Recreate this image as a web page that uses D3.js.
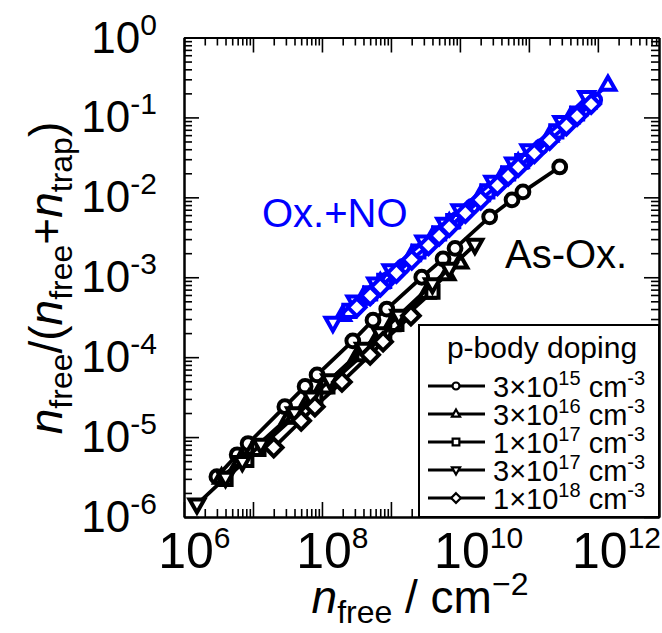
<!DOCTYPE html>
<html>
<head>
<meta charset="utf-8">
<script src="https://cdn.jsdelivr.net/npm/d3@7"></script>
<style>
body { margin: 0; background: #fff; }
text { font-family: "Liberation Sans", Arial, sans-serif; }
</style>
</head>
<body>
<svg id="chart" width="662" height="633"></svg>
<script>
// ---- data ----
// As-Ox. (black)
var asOx3e15X = [3.0e6, 5.9e6, 8.5e6, 2.9e7, 5.7e7, 8.5e7, 2.8e8, 5.5e8, 8.7e8, 2.8e9, 5.7e9, 8.5e9, 2.7e10, 5.7e10, 8.2e10, 2.8e11];
var asOx3e15Y = [3.2e-6, 6.0e-6, 8.3e-6, 2.4e-5, 4.3e-5, 6.0e-5, 1.6e-4, 2.9e-4, 4.0e-4, 1.0e-3, 1.7e-3, 2.3e-3, 5.7e-3, 9.3e-3, 1.17e-2, 2.4e-2];
var asOx3e16X = [3.5e6, 6.5e6, 1.0e7, 3.3e7, 6.5e7, 1.0e8, 3.3e8, 6.5e8, 1.0e9, 3.3e9, 6.5e9, 1.0e10];
var asOx3e16Y = [3.1e-6, 5.0e-6, 7.0e-6, 1.77e-5, 3.0e-5, 4.2e-5, 1.07e-4, 1.8e-4, 2.5e-4, 6.4e-4, 1.09e-3, 1.52e-3];
var asOx1e17X = [4.0e6, 8.0e6, 1.2e7, 4.0e7, 8.0e7, 1.2e8, 4.0e8, 8.0e8, 1.2e9, 4.0e9];
var asOx1e17Y = [3.0e-6, 5.2e-6, 7.1e-6, 1.8e-5, 3.1e-5, 4.3e-5, 1.09e-4, 1.87e-4, 2.6e-4, 6.6e-4];
var asOx3e17X = [1.54e6, 4.0e6, 7.0e6, 1.3e7, 4.0e7, 7.0e7, 1.3e8, 4.0e8, 7.0e8, 1.3e9, 4.0e9, 7.0e9, 1.65e10];
var asOx3e17Y = [1.44e-6, 3.1e-6, 4.9e-6, 8.05e-6, 2.0e-5, 3.13e-5, 5.15e-5, 1.28e-4, 2.0e-4, 3.3e-4, 8.2e-4, 1.28e-3, 2.55e-3];
var asOx1e18X = [2.0e7, 5.0e7, 7.9e7, 1.95e8, 5.0e8, 7.7e8, 1.95e9];
var asOx1e18Y = [7.4e-6, 1.6e-5, 2.4e-5, 4.9e-5, 1.07e-4, 1.56e-4, 3.3e-4];
// Ox.+NO (blue)
var no3e15X = [3e8, 4.5e8, 6e8, 9e8, 1.5e9, 3e9, 4.5e9, 6e9, 9e9, 1.5e10, 3e10, 4.5e10, 6e10, 9e10, 1.5e11, 3e11, 4.5e11, 6e11, 9e11];
var no3e15Y = [4.1e-4, 5.55e-4, 6.9e-4, 9.4e-4, 1.37e-3, 2.3e-3, 3.1e-3, 3.9e-3, 5.3e-3, 7.7e-3, 1.3e-2, 1.75e-2, 2.2e-2, 2.9e-2, 4.3e-2, 7.2e-2, 9.8e-2, 0.122, 0.165];
var no3e16X = [2e8, 4e8, 7e8, 2e9, 4e9, 7e9, 2e10, 4e10, 7e10, 2e11, 4e11, 7e11, 1.4e12];
var no3e16Y = [3.36e-4, 5.65e-4, 8.6e-4, 1.88e-3, 3.17e-3, 4.82e-3, 1.06e-2, 1.78e-2, 2.7e-2, 5.9e-2, 0.0998, 0.152, 0.255];
var no1e17X = [2.5e8, 5e8, 8e8, 2.5e9, 5e9, 8e9, 2.5e10, 5e10, 8e10, 2.5e11, 5e11];
var no1e17Y = [3.8e-4, 6.3e-4, 9.0e-4, 2.1e-3, 3.55e-3, 5.05e-3, 1.19e-2, 2.0e-2, 2.84e-2, 6.7e-2, 0.112];
var no3e17X = [1.44e8, 3e8, 6e8, 1e9, 3e9, 6e9, 1e10, 3e10, 6e10, 1e11, 3e11, 6.9e11];
var no3e17Y = [2.7e-4, 5.0e-4, 8.4e-4, 1.23e-3, 2.8e-3, 4.7e-3, 6.9e-3, 1.57e-2, 2.65e-2, 3.9e-2, 8.8e-2, 0.18];
var no1e18X = [3.2e8, 5e8, 7e8, 1.2e9, 2e9, 3.5e9, 5e9, 7e9, 1.2e10, 2e10, 3.5e10, 5e10, 7e10, 1.2e11, 2e11, 3.5e11, 5e11, 8e11];
var no1e18Y = [4.2e-4, 5.9e-4, 7.6e-4, 1.13e-3, 1.65e-3, 2.5e-3, 3.3e-3, 4.25e-3, 6.35e-3, 9.3e-3, 1.41e-2, 1.85e-2, 2.38e-2, 3.55e-2, 5.2e-2, 7.9e-2, 0.104, 0.147];

var legendMant = ["3", "3", "1", "3", "1"];
var legendExp = ["15", "16", "17", "17", "18"];
var shapes = ["circle", "up", "square", "down", "diamond"];
var xTickExp = [6, 8, 10, 12];
var yTickExp = [0, -1, -2, -3, -4, -5, -6];

var black = "#000", blue = "#0000ff";

var series = [
	{x: asOx3e15X, y: asOx3e15Y, shape: "circle", color: black},
	{x: asOx3e16X, y: asOx3e16Y, shape: "up", color: black},
	{x: asOx1e17X, y: asOx1e17Y, shape: "square", color: black},
	{x: asOx3e17X, y: asOx3e17Y, shape: "down", color: black},
	{x: asOx1e18X, y: asOx1e18Y, shape: "diamond", color: black},
	{x: no3e15X, y: no3e15Y, shape: "circle", color: blue},
	{x: no3e16X, y: no3e16Y, shape: "up", color: blue},
	{x: no1e17X, y: no1e17Y, shape: "square", color: blue},
	{x: no3e17X, y: no3e17Y, shape: "down", color: blue},
	{x: no1e18X, y: no1e18Y, shape: "diamond", color: blue}
];

var L = 184, R = 659, T = 37.5, B = 517;
var svg = d3.select("#chart");
var x = d3.scaleLog().domain([1e6, 7.7e12]).range([L, R]);
var y = d3.scaleLog().domain([1e-6, 1]).range([B, T]);

// marker shapes, k scales them down for the legend
var markerPath = function(shape, k){
	k = k || 1;
	if(shape === "circle") return d3.symbol().type(d3.symbolCircle).size(Math.PI * 6.4 * 6.4 * k * k)();
	if(shape === "up") return "M0," + (-8.2*k) + "L" + (7.4*k) + "," + (4.9*k) + "L" + (-7.4*k) + "," + (4.9*k) + "Z";
	if(shape === "down") return "M0," + (8.2*k) + "L" + (7.4*k) + "," + (-4.9*k) + "L" + (-7.4*k) + "," + (-4.9*k) + "Z";
	if(shape === "square") return "M" + (-6.1*k) + "," + (-6.1*k) + "H" + (6.1*k) + "V" + (6.1*k) + "H" + (-6.1*k) + "Z";
	return "M0," + (-8.8*k) + "L" + (8.8*k) + ",0L0," + (8.8*k) + "L" + (-8.8*k) + ",0Z";
};

// ---- axes / frame ----
var xMinor = [], yMinor = [];
for(var d = 6; d <= 12; d++){
	for(var m = 2; m <= 9; m++){
		if(m * Math.pow(10, d) <= 7.7e12) xMinor.push(m * Math.pow(10, d));
	}
}
for(var e = -6; e <= -1; e++){
	for(var m2 = 2; m2 <= 9; m2++) yMinor.push(m2 * Math.pow(10, e));
}
var xMajor = d3.range(6, 13).map(function(p){ return Math.pow(10, p); });
var yMajor = d3.range(-6, 1).map(function(p){ return Math.pow(10, p); });

var axisDefs = [
	{gen: d3.axisBottom, sc: x, tr: "translate(0," + B + ")"},
	{gen: d3.axisTop, sc: x, tr: "translate(0," + T + ")"},
	{gen: d3.axisLeft, sc: y, tr: "translate(" + L + ",0)"},
	{gen: d3.axisRight, sc: y, tr: "translate(" + R + ",0)"}
];
axisDefs.forEach(function(a){
	var major = a.sc === x ? xMajor : yMajor;
	var minor = a.sc === x ? xMinor : yMinor;
	svg.append("g").attr("transform", a.tr)
		.call(a.gen(a.sc).tickValues(minor).tickSize(-8).tickSizeOuter(0).tickFormat(""));
	svg.append("g").attr("transform", a.tr)
		.call(a.gen(a.sc).tickValues(major).tickSize(-15).tickSizeOuter(0).tickFormat(""));
});
svg.selectAll(".domain").attr("stroke", "#000").attr("stroke-width", 2);
svg.selectAll(".tick line").attr("stroke", "#000").attr("stroke-width", 1.6);

// tick labels
xTickExp.forEach(function(p){
	var t = svg.append("text").attr("y", 568).attr("font-size", 50);
	t.append("tspan").text("10");
	t.append("tspan").attr("font-size", 30).attr("dy", -20).text(p);
	var w = t.node().getSubStringLength(0, 2);
	t.attr("x", x(Math.pow(10, p)) - w / 2 + 2);
});
yTickExp.forEach(function(p){
	var t = svg.append("text").attr("x", 157).attr("y", y(Math.pow(10, p)) + 15)
		.attr("font-size", 44).attr("text-anchor", "end");
	t.append("tspan").text("10");
	t.append("tspan").attr("font-size", 30).attr("dy", -18).text(p);
});

// axis titles
var xt = svg.append("text").attr("x", 420).attr("y", 613).attr("font-size", 46).attr("text-anchor", "middle");
xt.append("tspan").attr("font-style", "italic").text("n");
xt.append("tspan").attr("font-size", 32).attr("dy", 10).text("free");
xt.append("tspan").attr("dy", -10).text(" / cm");
xt.append("tspan").attr("font-size", 32).attr("dy", -18).text("\u22122");

var yt = svg.append("text").attr("transform", "translate(62,278) rotate(-90)")
	.attr("font-size", 46).attr("text-anchor", "middle");
yt.append("tspan").attr("font-style", "italic").text("n");
yt.append("tspan").attr("font-size", 32).attr("dy", 10).text("free");
yt.append("tspan").attr("dy", -10).text("/(");
yt.append("tspan").attr("font-style", "italic").text("n");
yt.append("tspan").attr("font-size", 32).attr("dy", 10).text("free");
yt.append("tspan").attr("dy", -10).text("+");
yt.append("tspan").attr("font-style", "italic").text("n");
yt.append("tspan").attr("font-size", 32).attr("dy", 10).text("trap");
yt.append("tspan").attr("dy", -10).text(")");

// ---- series ----
var line = d3.line().x(function(d){ return x(d[0]); }).y(function(d){ return y(d[1]); });
series.forEach(function(s){
	var pts = s.x.map(function(v, i){ return [v, s.y[i]]; });
	var g = svg.append("g");
	g.append("path").datum(pts).attr("d", line)
		.attr("fill", "none").attr("stroke", s.color).attr("stroke-width", 3.8);
	g.selectAll("path.mk").data(pts).enter().append("path").attr("class", "mk")
		.attr("transform", function(d){ return "translate(" + x(d[0]) + "," + y(d[1]) + ")"; })
		.attr("d", markerPath(s.shape))
		.attr("fill", "#fff").attr("stroke", s.color).attr("stroke-width", 4);
});

// annotations
svg.append("text").attr("x", 262).attr("y", 227).attr("font-size", 40).attr("fill", blue).text("Ox.+NO");
svg.append("text").attr("x", 505).attr("y", 268).attr("font-size", 40).attr("fill", black).text("As-Ox.");

// ---- legend ----
var lg = svg.append("g");
lg.append("rect").attr("x", 419).attr("y", 325).attr("width", R - 419).attr("height", B - 325)
	.attr("fill", "#fff").attr("stroke", "#000").attr("stroke-width", 2);
lg.append("text").attr("x", 542).attr("y", 358).attr("font-size", 30).attr("text-anchor", "middle").text("p-body doping");
shapes.forEach(function(sh, i){
	var cy = 386 + i * 28;
	lg.append("line").attr("x1", 428).attr("x2", 485).attr("y1", cy).attr("y2", cy)
		.attr("stroke", "#000").attr("stroke-width", 3);
	lg.append("path").attr("transform", "translate(456," + cy + ")").attr("d", markerPath(sh, 0.55))
		.attr("fill", "#fff").attr("stroke", "#000").attr("stroke-width", 2.2);
	var t = lg.append("text").attr("x", 493).attr("y", cy + 11).attr("font-size", 29);
	t.append("tspan").text(legendMant[i] + "\u00d710");
	t.append("tspan").attr("font-size", 20).attr("dy", -12).text(legendExp[i]);
	t.append("tspan").attr("dy", 12).text(" cm");
	t.append("tspan").attr("font-size", 20).attr("dy", -12).text("-3");
});
</script>
</body>
</html>
